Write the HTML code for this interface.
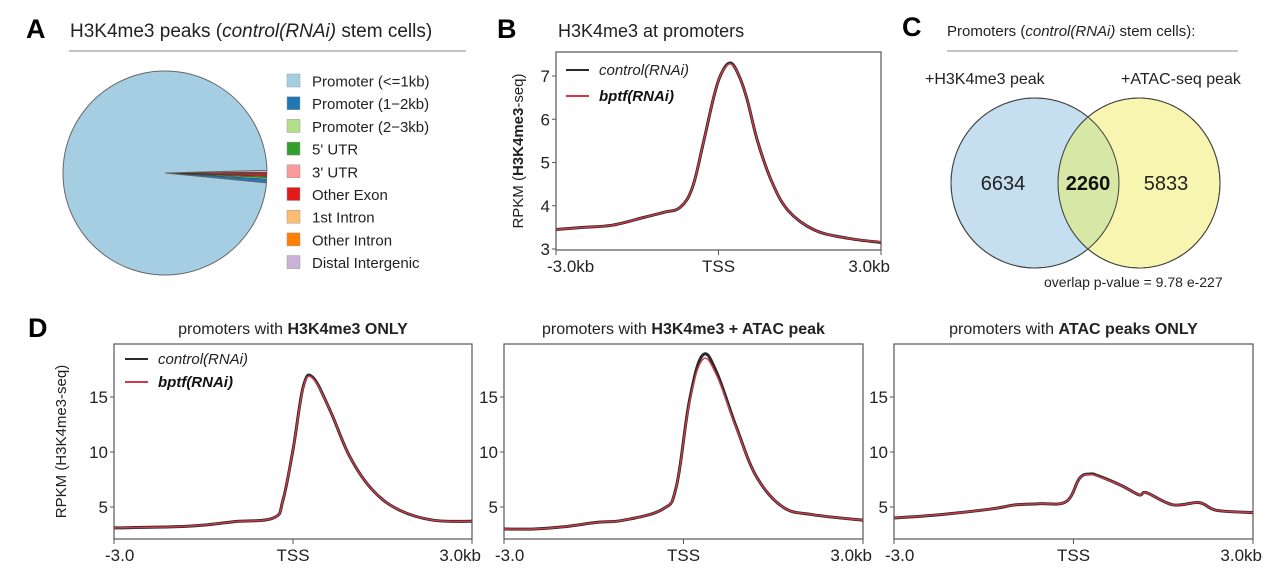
<!DOCTYPE html>
<html><head><meta charset="utf-8"><style>
body{margin:0;background:#fff;}
svg{display:block;font-family:"Liberation Sans",Arial,sans-serif;}
</style></head><body>
<svg id="fig" width="1283" height="579" viewBox="0 0 1283 579">
<!-- Panel A -->
<g>
<text x="26" y="38" font-size="27" font-weight="bold">A</text>
<text x="70" y="37" font-size="19" fill="#222">H3K4me3 peaks (<tspan font-style="italic">control(RNAi)</tspan> stem cells)</text>
<line x1="69" y1="51" x2="466" y2="51" stroke="#888" stroke-width="1"/>
<g id="pie"></g>
<g id="pielegend"></g>
</g>
<!-- Panel B -->
<g>
<text x="497" y="38" font-size="27" font-weight="bold">B</text>
<text x="558" y="37" font-size="18" fill="#222">H3K4me3 at promoters</text>
<g id="plotB"></g>
</g>
<!-- Panel C -->
<g>
<text x="902" y="36" font-size="27" font-weight="bold">C</text>
<text x="947" y="36" font-size="15" fill="#222">Promoters (<tspan font-style="italic">control(RNAi)</tspan> stem cells):</text>
<line x1="947" y1="51" x2="1238" y2="51" stroke="#888" stroke-width="1"/>
<text x="925" y="84" font-size="16" fill="#222">+H3K4me3 peak</text>
<text x="1121" y="84" font-size="16" fill="#222">+ATAC-seq peak</text>
<defs><clipPath id="blueclip"><ellipse cx="1035" cy="183" rx="84" ry="85"/></clipPath></defs>
<ellipse cx="1035" cy="183" rx="84" ry="85" fill="#c5dff0" stroke="#444" stroke-width="1"/>
<ellipse cx="1139" cy="183" rx="81" ry="85" fill="#f7f5b0" stroke="#444" stroke-width="1"/>
<ellipse cx="1139" cy="183" rx="81" ry="85" fill="#d6e7a6" clip-path="url(#blueclip)"/>
<ellipse cx="1035" cy="183" rx="84" ry="85" fill="none" stroke="#444" stroke-width="1"/>
<ellipse cx="1139" cy="183" rx="81" ry="85" fill="none" stroke="#444" stroke-width="1"/>
<text x="1003" y="190" font-size="20" text-anchor="middle" fill="#222">6634</text>
<text x="1088" y="190" font-size="20" font-weight="bold" text-anchor="middle" fill="#111">2260</text>
<text x="1166" y="190" font-size="20" text-anchor="middle" fill="#222">5833</text>
<text x="1044" y="287" font-size="14" fill="#222">overlap p-value = 9.78 e-227</text>
</g>
<!-- Panel D -->
<g>
<text x="28" y="337" font-size="27" font-weight="bold">D</text>
<g id="plotD1"></g>
<g id="plotD2"></g>
<g id="plotD3"></g>
</g>
</svg>
<script>
const NS="http://www.w3.org/2000/svg";
function mk(tag,attrs,parent,txt){const e=document.createElementNS(NS,tag);for(const k in attrs)e.setAttribute(k,attrs[k]);if(txt!==undefined)e.textContent=txt;parent.appendChild(e);return e;}

// ---- Pie data ----
const pieCategories=["Promoter (<=1kb)","Promoter (1\u22122kb)","Promoter (2\u22123kb)","5' UTR","3' UTR","Other Exon","1st Intron","Other Intron","Distal Intergenic"];
const pieValues=[97.9,0.6,0.2,0.2,0.1,0.4,0.1,0.05,0.3];
const pieColors=["#a6cee3","#1f78b4","#b2df8a","#33a02c","#fb9a99","#e31a1c","#fdbf6f","#ff7f00","#cab2d6"];

// ---- Profile data (x in kb relative to TSS) ----
const bX=[-3,-2.5,-1.96,-1.35,-1.0,-0.7,-0.48,-0.28,-0.09,0.05,0.22,0.38,0.53,0.72,0.97,1.28,1.77,2.38,3.0];
const bControl=[3.45,3.5,3.55,3.74,3.85,3.97,4.43,5.45,6.5,7.05,7.3,7.0,6.45,5.5,4.6,3.9,3.44,3.25,3.15];
const bBptf=[3.45,3.5,3.55,3.74,3.85,3.97,4.43,5.45,6.5,7.05,7.28,7.0,6.45,5.5,4.6,3.9,3.44,3.25,3.16];

const d1X=[-3,-2,-1.5,-1.0,-0.33,-0.17,0,0.17,0.33,0.62,0.95,1.34,1.79,2.35,3.0];
const d1Control=[3.1,3.2,3.35,3.66,4.0,5.6,10.2,15.9,16.8,13.8,9.6,6.5,4.7,3.8,3.7];
const d1Bptf=[3.1,3.2,3.35,3.66,4.0,5.6,10.2,15.8,16.7,13.8,9.6,6.5,4.7,3.8,3.7];

const d2X=[-3,-2.5,-2,-1.45,-1,-0.35,-0.12,0.1,0.32,0.55,0.88,1.22,1.66,2.16,3.0];
const d2Control=[3.0,3.0,3.2,3.6,3.8,4.8,6.85,14.7,18.8,17.3,12.3,7.75,5.0,4.3,3.8];
const d2Bptf=[3.0,3.0,3.2,3.6,3.8,4.8,6.85,14.5,18.4,17.0,12.2,7.75,5.0,4.3,3.8];

const d3X=[-3,-2.24,-1.4,-0.96,-0.57,-0.12,0.1,0.27,0.43,0.82,1.1,1.22,1.66,2.1,2.39,3.0];
const d3Control=[4.0,4.3,4.8,5.2,5.3,5.5,7.6,8.0,7.8,6.9,6.1,6.3,5.2,5.4,4.7,4.5];
const d3Bptf=[4.0,4.3,4.8,5.2,5.3,5.5,7.6,7.95,7.75,6.9,6.1,6.3,5.2,5.4,4.7,4.5];

const bYTicks=[3,4,5,6,7];
const dYTicks=[5,10,15];

// ---- Pie ----
(function(){
  const g=document.getElementById('pie');
  const cx=165,cy=173,r=102;
  const total=pieValues.reduce((a,b)=>a+b,0);
  const order=[8,7,6,5,4,3,2,1,0];
  let a=-1.5*Math.PI/180;
  order.forEach(i=>{
    const sweep=pieValues[i]/total*2*Math.PI;
    const a2=a+sweep;
    const large=sweep>Math.PI?1:0;
    const d=`M${cx},${cy} L${cx+r*Math.cos(a)},${cy+r*Math.sin(a)} A${r},${r} 0 ${large} 1 ${cx+r*Math.cos(a2)},${cy+r*Math.sin(a2)} Z`;
    const p=mk('path',{d:d,fill:pieColors[i],stroke:i===0?'#666':'#333','stroke-width':i===0?1:0.4},g);
    
    
    a=a2;
  });
  const lg=document.getElementById('pielegend');
  pieCategories.forEach((c,i)=>{
    const y=81+i*22.7;
    const s=mk('rect',{x:287,y:y-7,width:13,height:13,fill:pieColors[i],stroke:'#999','stroke-width':0.5},lg);
    
    
    const t=mk('text',{x:312,y:y+5.5,'font-size':15,fill:'#222'},lg,c);
    
    
  });
})();

function smoothPath(pts){
  let d='M'+pts[0][0].toFixed(1)+','+pts[0][1].toFixed(1);
  for(let i=0;i<pts.length-1;i++){
    const p0=pts[Math.max(0,i-1)],p1=pts[i],p2=pts[i+1],p3=pts[Math.min(pts.length-1,i+2)];
    const t=0.18;
    const c1=[p1[0]+(p2[0]-p0[0])*t,p1[1]+(p2[1]-p0[1])*t];
    const c2=[p2[0]-(p3[0]-p1[0])*t,p2[1]-(p3[1]-p1[1])*t];
    d+=` C${c1[0].toFixed(1)},${c1[1].toFixed(1)} ${c2[0].toFixed(1)},${c2[1].toFixed(1)} ${p2[0].toFixed(1)},${p2[1].toFixed(1)}`;
  }
  return d;
}

// ---- Profile plot ----
function profile(gid,o){
  const g=document.getElementById(gid);
  const xs=v=>o.left+(v+3)/6*(o.right-o.left);
  const ys=v=>o.y0-(v-o.v0)*o.k;
  mk('rect',{x:o.left,y:o.top,width:o.right-o.left,height:o.bottom-o.top,fill:'none',stroke:'#555','stroke-width':1.2},g);
  o.yticks.forEach(t=>{
    const y=ys(t);
    mk('line',{x1:o.left-4,y1:y,x2:o.left,y2:y,stroke:'#555'},g);
    const tx=mk('text',{x:o.left-6,y:y+6,'font-size':17,'text-anchor':'end',fill:'#222'},g,t);
    
    
  });
  const xl=[[-3,o.xl[0],'start'],[0,'TSS','middle'],[3,o.xl[1],'end']];
  xl.forEach(([v,l,anc])=>{
    const x=xs(v);
    mk('line',{x1:x,y1:o.bottom,x2:x,y2:o.bottom+5,stroke:'#555'},g);
    const tx=mk('text',{x:anc==='start'?x-9:anc==='end'?x+9:x,y:o.bottom+22,'font-size':17,'text-anchor':anc,fill:'#222'},g,l);
    
    
  });
  const path=(X,Y)=>smoothPath(X.map((x,i)=>[xs(x),ys(Y[i])]));
  const c=mk('path',{d:path(o.X,o.c),fill:'none',stroke:'#2a2a2a','stroke-width':3,'stroke-linejoin':'round'},g);
  
  
  const b=mk('path',{d:path(o.X,o.b),fill:'none',stroke:'#d23a4a','stroke-width':1.4,'stroke-linejoin':'round'},g);
  
  
  if(o.title){
    const t=mk('text',{x:(o.left+o.right)/2,y:o.top-10,'font-size':16,'text-anchor':'middle',fill:'#222'},g);
    t.innerHTML=o.title;
    
    
  }
  if(o.ylab){
    const t=mk('text',{transform:`translate(${o.ylabX},${(o.top+o.bottom)/2}) rotate(-90)`,'font-size':o.ylabSize,'text-anchor':'middle',fill:'#222'},g);
    t.innerHTML=o.ylab;
    
    
  }
  if(o.legend){
    const [lx,ly,gap,fs]=o.legend;
    mk('line',{x1:lx,y1:ly,x2:lx+23,y2:ly,stroke:'#2a2a2a','stroke-width':2},g);
    const t1=mk('text',{x:lx+33,y:ly+5,'font-size':fs,'font-style':'italic',fill:'#222'},g,'control(RNAi)');
    
    
    mk('line',{x1:lx,y1:ly+gap,x2:lx+23,y2:ly+gap,stroke:'#d23a4a','stroke-width':2},g);
    const t2=mk('text',{x:lx+33,y:ly+gap+5,'font-size':fs,'font-style':'italic','font-weight':'bold',fill:'#111'},g,'bptf(RNAi)');
    
    
  }
}
profile('plotB',{left:556,right:881,top:52,bottom:250,y0:249,v0:3,k:43.25,yticks:bYTicks,xl:['-3.0kb','3.0kb'],X:bX,c:bControl,b:bBptf,
  ylab:'RPKM (<tspan font-weight="bold">H3K4me3</tspan>-seq)',ylabX:523,ylabSize:15,legend:[566,70,26,15]});
const dOpt={top:344,bottom:539,y0:507,v0:5,k:11,yticks:dYTicks};
profile('plotD1',Object.assign({},dOpt,{left:114,right:472,xl:['-3.0','3.0kb'],X:d1X,c:d1Control,b:d1Bptf,
  title:'promoters with <tspan font-weight="bold">H3K4me3 ONLY</tspan>',ylab:'RPKM (H3K4me3-seq)',ylabX:66,ylabSize:15,legend:[125,359,23,15]}));
profile('plotD2',Object.assign({},dOpt,{left:504,right:863,xl:['-3.0','3.0kb'],X:d2X,c:d2Control,b:d2Bptf,
  title:'promoters with <tspan font-weight="bold">H3K4me3 + ATAC peak</tspan>'}));
profile('plotD3',Object.assign({},dOpt,{left:894,right:1253,xl:['-3.0','3.0kb'],X:d3X,c:d3Control,b:d3Bptf,
  title:'promoters with <tspan font-weight="bold">ATAC peaks ONLY</tspan>'}));
</script>
</body></html>
